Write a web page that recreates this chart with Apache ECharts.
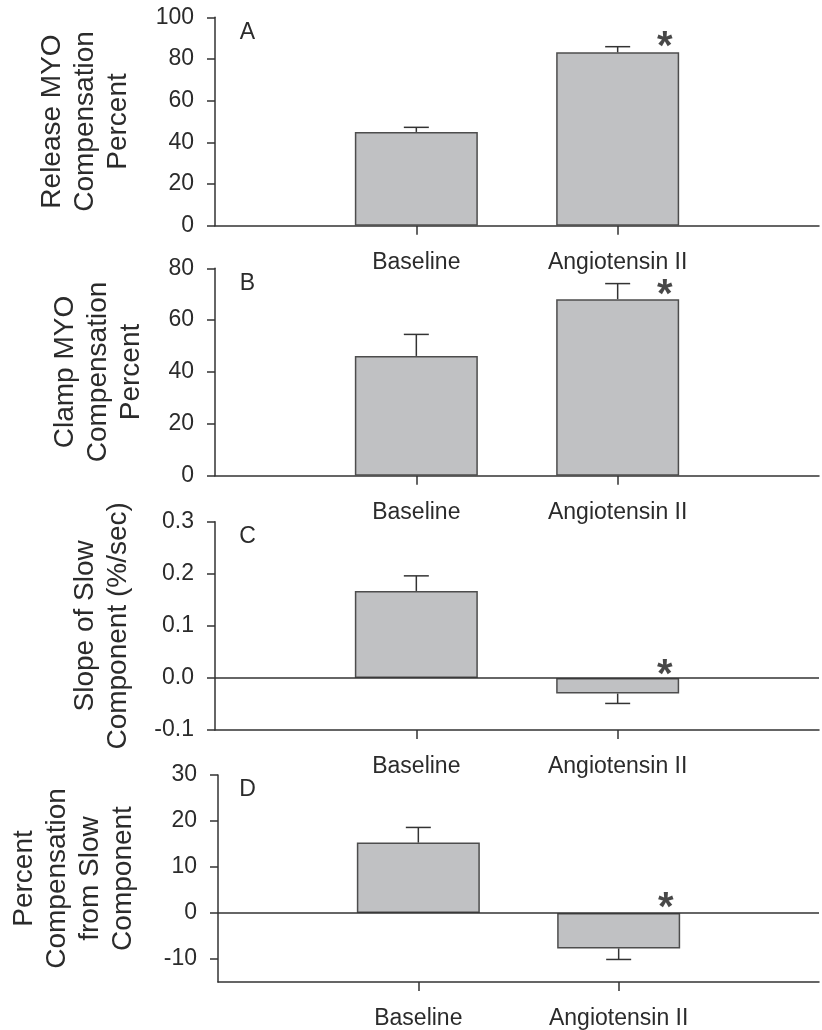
<!DOCTYPE html>
<html>
<head>
<meta charset="utf-8">
<script src="https://cdn.jsdelivr.net/npm/echarts@6/dist/echarts.min.js"></script>
<style>
  html, body { margin: 0; padding: 0; background: #fff; }
  #c { width: 822px; height: 1030px; }
</style>
</head>
<body>
<div id="c"></div>
<script>
// ---- data ----
const categories = ['', 'Baseline', 'Angiotensin II', ''];

const releaseMean = [45.0, 83.2];
const releaseSEM  = [2.2, 2.7];

const clampMean = [46.2, 68.1];
const clampSEM  = [8.3, 6.0];

const slopeMean = [0.167, -0.030];
const slopeSEM  = [0.029, 0.019];

const pctSlowMean = [15.3, -7.7];
const pctSlowSEM  = [3.3, 2.4];

// significance marker anchors (Angiotensin II), value units
const starValues = [85.6, 69.8, 0.006, 1.2];

const ticksA = [0, 20, 40, 60, 80, 100];
const ticksB = [0, 20, 40, 60, 80];
const ticksC = [-0.1, 0.0, 0.1, 0.2, 0.3];
const ticksD = [-10, 0, 10, 20, 30];

const panelLetters = ['A', 'B', 'C', 'D'];
const yTitles = [
  'Release MYO\nCompensation\nPercent',
  'Clamp MYO\nCompensation\nPercent',
  'Slope of Slow\nComponent (%/sec)',
  'Percent\nCompensation\nfrom Slow\nComponent'
];

// ---- layout ----
const FONT = "'Liberation Sans', Arial, Helvetica, sans-serif";
const TXT = '#2b2b2b';
const LINE = '#333333';

const panels = [
  { top: 17.3,  height: 208.4, min: 0,    max: 100, ticks: ticksA, mean: releaseMean, sem: releaseSEM, gap: 80, fmt: v => String(v), zero: false },
  { top: 268.3, height: 207.4, min: 0,    max: 80,  ticks: ticksB, mean: clampMean,   sem: clampSEM,   gap: 67, fmt: v => String(v), zero: false },
  { top: 521.7, height: 208.3, min: -0.1, max: 0.3, ticks: ticksC, mean: slopeMean,   sem: slopeSEM,   gap: 80, fmt: v => Number(v).toFixed(1), zero: true },
  { top: 775,   height: 207.3, min: -15,  max: 30,  ticks: ticksD, mean: pctSlowMean, sem: pctSlowSEM, gap: 78, fmt: v => String(v), zero: true }
];

const grid = [], xAxis = [], yAxis = [], series = [], graphic = [];

panels.forEach((p, i) => {
  grid.push({ left: 215, width: 614, top: p.top, height: p.height, containLabel: false });

  xAxis.push({
    type: 'category', gridIndex: i, data: categories, boundaryGap: false,
    axisLine: { onZero: false, lineStyle: { color: LINE, width: 1.5 } },
    axisTick: { show: true, length: 9, interval: (idx) => idx === 1 || idx === 2, lineStyle: { color: LINE, width: 1.5 } },
    axisLabel: { interval: 0, fontSize: 23, color: TXT, fontFamily: FONT, margin: 25 },
    splitLine: { show: false }
  });

  yAxis.push({
    type: 'value', gridIndex: i, min: p.min, max: p.max,
    name: yTitles[i], nameLocation: 'middle', nameRotate: 90, nameGap: p.gap,
    nameTextStyle: { fontSize: 28, lineHeight: 33, color: TXT, fontFamily: FONT },
    axisLine: { show: true, lineStyle: { color: LINE, width: 1.5 } },
    axisTick: { show: true, length: 8, customValues: p.ticks, lineStyle: { color: LINE, width: 1.5 } },
    axisLabel: { customValues: p.ticks, formatter: p.fmt, fontSize: 23, color: TXT, fontFamily: FONT, margin: 21 },
    splitLine: { show: false }
  });

  const barSeries = {
    type: 'bar', xAxisIndex: i, yAxisIndex: i,
    data: ['-', p.mean[0], p.mean[1], '-'],
    barWidth: 123,
    itemStyle: { color: '#c0c1c3', borderColor: '#4d4d4d', borderWidth: 1.5 },
    silent: true, z: 2
  };
  if (p.zero) {
    barSeries.markLine = {
      silent: true, symbol: ['none', 'none'],
      label: { show: false },
      lineStyle: { color: LINE, width: 1.5, type: 'solid' },
      data: [{ yAxis: 0 }]
    };
  }
  series.push(barSeries);

  series.push({
    type: 'custom', xAxisIndex: i, yAxisIndex: i, z: 3, silent: true,
    data: [[1, p.mean[0], p.sem[0]], [2, p.mean[1], p.sem[1]]],
    renderItem: (params, api) => {
      const x = api.value(0), m = api.value(1), s = api.value(2);
      const dir = m >= 0 ? 1 : -1;
      const p0 = api.coord([x, m]);
      const p1 = api.coord([x, m + dir * s]);
      const hw = 12.5;
      return {
        type: 'group',
        children: [
          { type: 'line', shape: { x1: p0[0], y1: p0[1], x2: p1[0], y2: p1[1] }, style: { stroke: LINE, lineWidth: 1.5 } },
          { type: 'line', shape: { x1: p1[0] - hw, y1: p1[1], x2: p1[0] + hw, y2: p1[1] }, style: { stroke: LINE, lineWidth: 1.5 } }
        ]
      };
    }
  });

  series.push({
    type: 'scatter', xAxisIndex: i, yAxisIndex: i, z: 4, silent: true,
    symbolSize: 0,
    data: [[2, starValues[i]]],
    label: {
      show: true, position: 'inside', formatter: '*', offset: [47, 1],
      fontSize: 40, fontWeight: 'bold', color: '#1a1a1a', fontFamily: FONT
    }
  });

  graphic.push({
    type: 'text', x: 247.5, y: p.top + 15, silent: true,
    style: { text: panelLetters[i], fontSize: 23, fill: TXT, fontFamily: FONT, textAlign: 'center', textVerticalAlign: 'middle' }
  });
});

const chart = echarts.init(document.getElementById('c'), null, { renderer: 'canvas' });
chart.setOption({
  animation: false,
  backgroundColor: '#ffffff',
  grid, xAxis, yAxis, series, graphic
});
</script>
</body>
</html>
